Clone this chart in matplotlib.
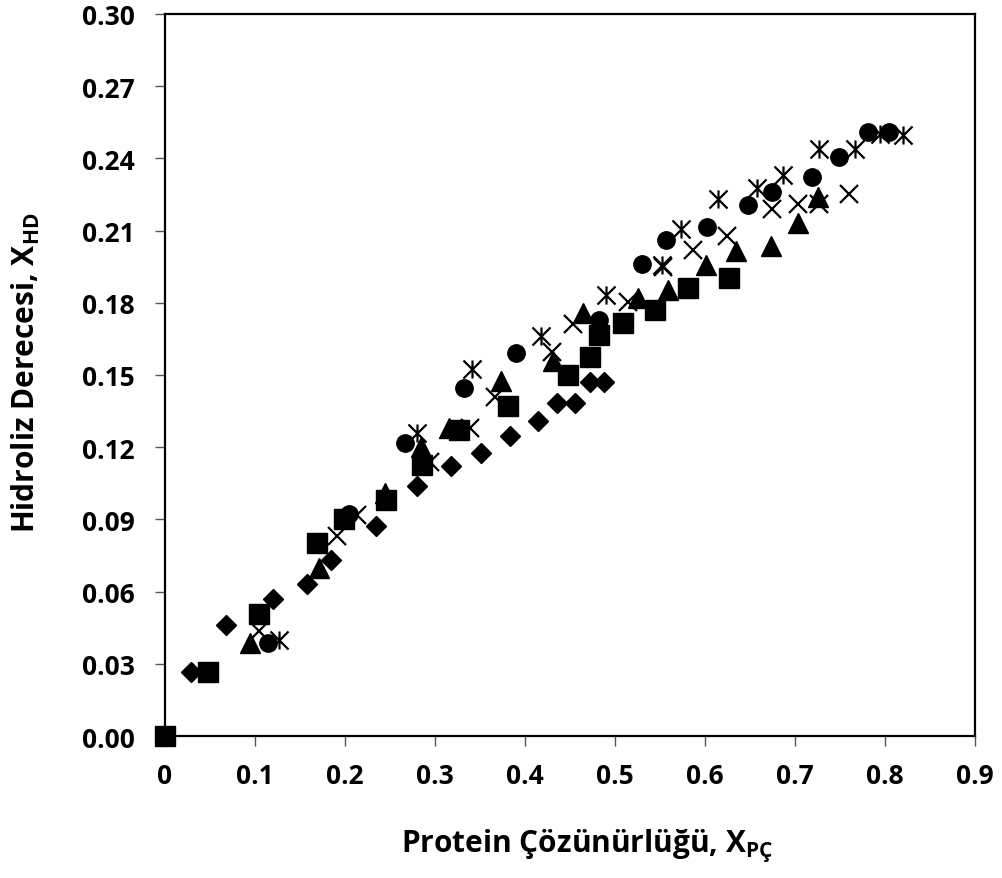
import matplotlib
matplotlib.use('Agg')
import matplotlib.pyplot as plt
from matplotlib.path import Path

plt.rcParams['font.family'] = ['Open Sans', 'DejaVu Sans']
plt.rcParams['font.weight'] = 'bold'
plt.rcParams['mathtext.fontset'] = 'custom'
plt.rcParams['mathtext.rm'] = 'Open Sans:bold'
plt.rcParams['mathtext.bf'] = 'Open Sans:bold'
plt.rcParams['mathtext.it'] = 'Open Sans:bold'

# data
diamond_x = [0.0285, 0.068, 0.120, 0.158, 0.184, 0.234, 0.280, 0.318, 0.351, 0.383, 0.415, 0.436, 0.456, 0.472, 0.488]
diamond_y = [0.0267, 0.046, 0.057, 0.063, 0.0733, 0.0874, 0.1037, 0.1123, 0.1176, 0.1247, 0.1307, 0.1385, 0.1383, 0.1472, 0.1472]

square_x = [0.0, 0.048, 0.104, 0.1685, 0.199, 0.2456, 0.286, 0.327, 0.381, 0.4474, 0.472, 0.4826, 0.5086, 0.5444, 0.5815, 0.6267]
square_y = [0.0, 0.0264, 0.0506, 0.080, 0.090, 0.098, 0.1127, 0.127, 0.137, 0.150, 0.1576, 0.1666, 0.1714, 0.1772, 0.1862, 0.1903]

triangle_x = [0.094, 0.171, 0.244, 0.284, 0.316, 0.373, 0.4308, 0.465, 0.526, 0.5593, 0.6007, 0.635, 0.6733, 0.7037, 0.726]
triangle_y = [0.0385, 0.070, 0.101, 0.120, 0.128, 0.1473, 0.156, 0.1756, 0.1818, 0.1852, 0.1956, 0.2015, 0.2036, 0.2131, 0.2239]

cross_x = [0.105, 0.1915, 0.213, 0.294, 0.339, 0.3667, 0.4296, 0.453, 0.515, 0.553, 0.587, 0.625, 0.675, 0.7037, 0.7267, 0.7604]
cross_y = [0.0436, 0.083, 0.092, 0.114, 0.128, 0.141, 0.1597, 0.1712, 0.1804, 0.195, 0.2018, 0.2076, 0.219, 0.2212, 0.2212, 0.2253]

star_x = [0.127, 0.2796, 0.3415, 0.4174, 0.490, 0.5519, 0.5733, 0.6148, 0.658, 0.6863, 0.7267, 0.7667, 0.795, 0.8204]
star_y = [0.040, 0.126, 0.1524, 0.1662, 0.1832, 0.1956, 0.2108, 0.223, 0.2278, 0.2329, 0.244, 0.244, 0.250, 0.2495]

circle_x = [0.114, 0.204, 0.267, 0.3326, 0.390, 0.4826, 0.5296, 0.5563, 0.6019, 0.6474, 0.6748, 0.7185, 0.749, 0.7815, 0.8048]
circle_y = [0.0385, 0.0923, 0.1217, 0.1448, 0.159, 0.1728, 0.1963, 0.206, 0.2115, 0.2208, 0.226, 0.2322, 0.2405, 0.2508, 0.2508]

x_ticks = [0, 0.1, 0.2, 0.3, 0.4, 0.5, 0.6, 0.7, 0.8, 0.9]
x_ticklabels = ['0', '0.1', '0.2', '0.3', '0.4', '0.5', '0.6', '0.7', '0.8', '0.9']
y_ticks = [0.00, 0.03, 0.06, 0.09, 0.12, 0.15, 0.18, 0.21, 0.24, 0.27, 0.30]

# Excel style asterisk: an x with a vertical bar
star_marker = Path([(-1, -1), (1, 1), (-1, 1), (1, -1), (0, -1), (0, 1)],
                   [Path.MOVETO, Path.LINETO] * 3)

fig = plt.figure(figsize=(10.03, 8.79), dpi=100)
ax = fig.add_axes([0.1645, 0.1615, 0.8075, 0.8215])

ax.plot(diamond_x, diamond_y, 'D', color='black', ms=10.5, ls='none')
ax.plot(square_x, square_y, 's', color='black', ms=14, ls='none')
ax.plot(triangle_x, triangle_y, '^', color='black', ms=14, ls='none')
ax.plot(cross_x, cross_y, 'x', color='black', ms=13, mew=1.6, ls='none')
ax.plot(star_x, star_y, marker=star_marker, color='black', mfc='none', ms=13, mew=1.6, ls='none')
ax.plot(circle_x, circle_y, 'o', color='black', ms=12.5, ls='none')

ax.set_xlim(0, 0.9)
ax.set_ylim(0, 0.30)
ax.set_xticks(x_ticks)
ax.set_xticklabels(x_ticklabels)
ax.set_yticks(y_ticks)
ax.set_yticklabels([f'{v:.2f}' for v in y_ticks])
for lab in ax.get_xticklabels() + ax.get_yticklabels():
    lab.set_fontsize(19)
    lab.set_fontweight('bold')

ax.tick_params(axis='both', direction='out', length=7, width=1, color='#555555')
ax.tick_params(axis='x', pad=12)
ax.tick_params(axis='y', pad=15)
for side in ['top', 'right', 'left', 'bottom']:
    ax.spines[side].set_linewidth(1.6)
    ax.spines[side].set_color('black')

ax.set_xlabel('Protein Çözünürlüğü, X$_{\\mathbf{PÇ}}$', fontsize=21.5, fontweight='bold')
ax.set_ylabel('Hidroliz Derecesi, X$_{\\mathbf{HD}}$', fontsize=21.5, fontweight='bold')
ax.xaxis.set_label_coords(0.521, -0.125)
ax.yaxis.set_label_coords(-0.152, 0.505)

for line in ax.lines:
    line.set_clip_on(False)

fig.savefig('out.png', dpi=100)
